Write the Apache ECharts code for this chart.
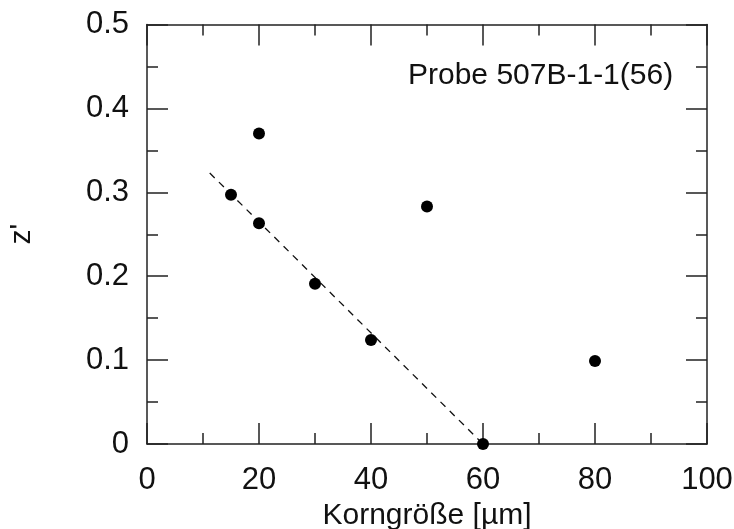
<!DOCTYPE html>
<html>
<head>
<meta charset="utf-8">
<script src="https://cdn.jsdelivr.net/npm/echarts@6/dist/echarts.min.js"></script>
<style>html,body{margin:0;padding:0;background:#fff;}#c{width:734px;height:529px;}</style>
</head>
<body>
<div id="c"></div>
<script>
var grainSize = [15, 20, 20, 30, 40, 50, 60, 80];
var zPrime = [0.297, 0.370, 0.263, 0.191, 0.124, 0.283, 0.0, 0.099];
var fitX = [11.2, 60];
var fitY = [0.323, 0.0];
var xTicks = [0, 20, 40, 60, 80, 100];
var yTicks = [0, 0.1, 0.2, 0.3, 0.4, 0.5];
var sampleLabel = 'Probe 507B-1-1(56)';

var FONT = '"Liberation Sans", Arial, sans-serif';
var chart = echarts.init(document.getElementById('c'), null, {renderer: 'canvas'});
var pts = grainSize.map(function (x, i) { return [x, zPrime[i]]; });
var fit = fitX.map(function (x, i) { return [x, fitY[i]]; });
var lineCol = '#222';
function axisCommon(show) {
  return {
    axisLine: {show: true, onZero: false, lineStyle: {color: lineCol, width: 1.5}},
    axisTick: {show: true, inside: true, length: 21, lineStyle: {color: lineCol, width: 1.5}},
    minorTick: {show: true, splitNumber: 2, length: 11, lineStyle: {color: lineCol, width: 1.5}},
    splitLine: {show: false},
    axisLabel: {show: show}
  };
}
var option = {
  backgroundColor: '#fff',
  animation: false,
  grid: {left: 147, right: 27, top: 24.5, bottom: 85, containLabel: false, outerBoundsMode: 'none'},
  xAxis: [
    Object.assign(axisCommon(true), {
      type: 'value', position: 'bottom', min: xTicks[0], max: xTicks[xTicks.length - 1], interval: 20,
      name: 'Korngröße [µm]', nameLocation: 'middle', nameGap: 51,
      nameTextStyle: {fontFamily: FONT, fontSize: 30, color: '#111'},
      axisLabel: {show: true, fontFamily: FONT, fontSize: 31, color: '#111', margin: 21}
    }),
    Object.assign(axisCommon(false), {
      type: 'value', position: 'top', min: xTicks[0], max: xTicks[xTicks.length - 1], interval: 20
    })
  ],
  yAxis: [
    Object.assign(axisCommon(true), {
      type: 'value', position: 'left', min: yTicks[0], max: yTicks[yTicks.length - 1], interval: 0.1,
      name: "z'", nameLocation: 'middle', nameGap: 110, nameRotate: 90,
      nameTextStyle: {fontFamily: FONT, fontSize: 30, color: '#111'},
      axisLabel: {show: true, fontFamily: FONT, fontSize: 31, color: '#111', margin: 18,
        formatter: function (v) { return v === 0 ? '0' : String(Math.round(v * 10) / 10); }}
    }),
    Object.assign(axisCommon(false), {
      type: 'value', position: 'right', min: yTicks[0], max: yTicks[yTicks.length - 1], interval: 0.1
    })
  ],
  graphic: [{
    type: 'text', left: 408, top: 61,
    style: {text: sampleLabel, font: '30px ' + FONT, fill: '#111'}
  }],
  series: [
    {
      type: 'line', data: fit, xAxisIndex: 0, yAxisIndex: 0, symbol: 'none',
      lineStyle: {color: '#111', width: 1.3, type: [7, 6]}, z: 2
    },
    {
      type: 'scatter', data: pts, xAxisIndex: 0, yAxisIndex: 0, symbol: 'circle', symbolSize: 12,
      itemStyle: {color: '#000', opacity: 1}, z: 3
    }
  ]
};
chart.setOption(option);
</script>
</body>
</html>
